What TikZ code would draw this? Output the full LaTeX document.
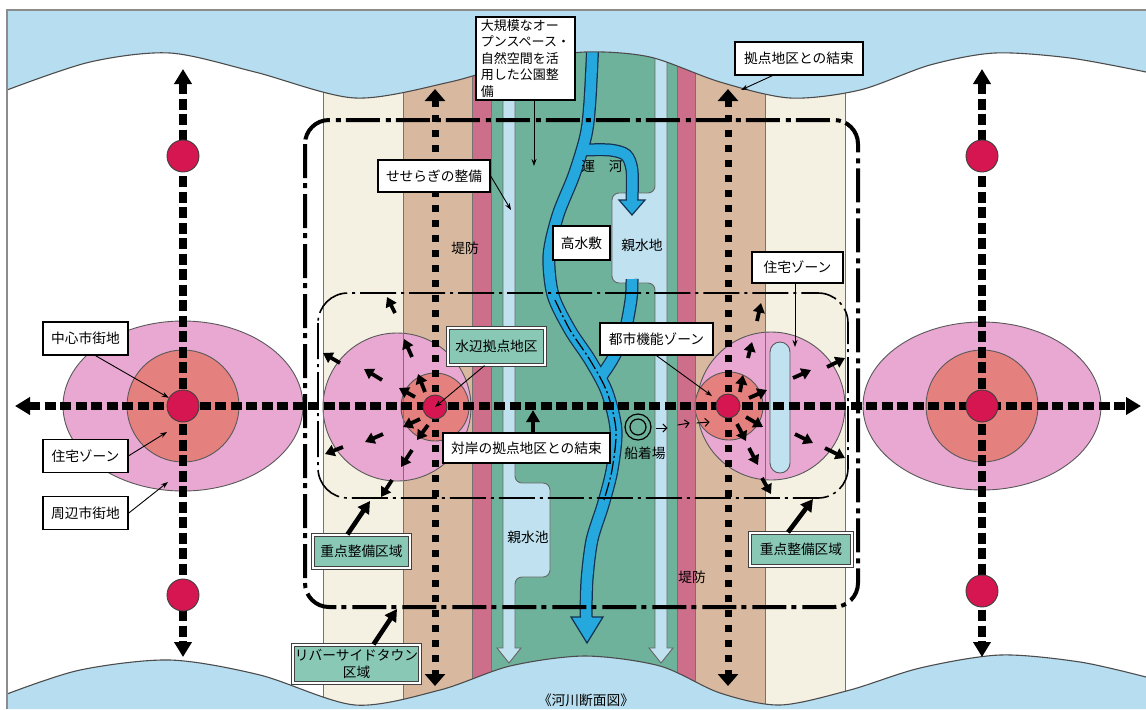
\documentclass[tikz,border=0pt]{standalone}
\usepackage{fontspec}
\setmainfont{Noto Sans CJK JP}
\usepackage{tikz}
\usetikzlibrary{arrows.meta,shapes,positioning,calc}
\definecolor{water}{RGB}{183,222,240}
\definecolor{cream}{RGB}{244,241,226}
\definecolor{bank}{RGB}{216,185,160}
\definecolor{dike}{RGB}{205,110,138}
\definecolor{park}{RGB}{111,178,155}
\definecolor{stream}{RGB}{192,226,240}
\definecolor{canal}{RGB}{36,168,222}
\definecolor{rim}{RGB}{20,50,80}
\definecolor{outer}{RGB}{232,168,210}
\definecolor{inner}{RGB}{228,128,126}
\definecolor{core}{RGB}{214,22,80}
\definecolor{tag}{RGB}{138,200,182}
\newlength{\pxu}
\setlength{\pxu}{0.2mm}

\begin{document}
\begin{tikzpicture}[x=0.2mm,y=-0.2mm,>=Stealth,
  box/.style={draw,fill=white,line width=1.3\pxu,inner sep=0pt,align=center,font=\fontsize{7.8}{9.4}\selectfont},
  tagbox/.style={box,fill=tag,draw=black!75,double,double distance=1.6\pxu},
  lbl/.style={inner sep=0pt,font=\fontsize{7.8}{9.4}\selectfont},
  dot/.style={circle,fill=core,draw=black!75,line width=0.9\pxu,inner sep=0pt,minimum size=24\pxu},
  seam/.style={draw=black!55,line width=0.9\pxu},
  ring/.style={draw=black!65,line width=0.9\pxu},
  lead/.style={line width=0.9\pxu,-{Stealth[length=1.4mm,width=1mm]}},
  flow/.style={line width=3.8\pxu,-{Triangle[length=1.9mm,width=2.3mm]}},
  push/.style={line width=4.6\pxu,-{Triangle[length=2.4mm,width=2.6mm]}},
  hop/.style={line width=1\pxu,-{Straight Barb[length=0.8mm,width=1.6mm]}},
  road/.style={line width=8\pxu,dash pattern=on 2.2mm off 0.9mm,{Triangle[length=3mm,width=3.4mm]}-{Triangle[length=3mm,width=3.4mm]}},
  link/.style={line width=7\pxu,dash pattern=on 1.4mm off 1.6mm,{Triangle[length=2.4mm,width=4mm]}-{Triangle[length=2.4mm,width=4mm]}},
  townzone/.style={line width=4\pxu,dash pattern=on 6.8mm off 1mm on 1mm off 1.2mm,rounded corners=24\pxu},
  corezone/.style={line width=1.6\pxu,dash pattern=on 7.2mm off 1mm on 0.6mm off 1mm,rounded corners=30\pxu},
  rimline/.style={draw=rim,line width=13\pxu},
  flowline/.style={draw=canal,line width=10.5\pxu}]
  \useasboundingbox (0,0) rectangle (1146,709);
  \fill[white] (0,0) rectangle (1146,709);
  \fill[cream] (323,10) rectangle (403,709);
  \fill[bank] (403,10) rectangle (472,709);
  \fill[dike] (472,10) rectangle (491,709);
  \fill[park] (491,10) rectangle (677,709);
  \fill[dike] (677,10) rectangle (695,709);
  \fill[bank] (695,10) rectangle (765,709);
  \fill[cream] (765,10) rectangle (845,709);
  \filldraw[fill=stream,draw=black!60,line width=0.9\pxu] (503,20) -- (503,648) -- (497,648) -- (509,663) -- (521,648) -- (515,648) [rounded corners=7\pxu] -- (515,577) -- (550,577) -- (550,483) -- (515,483) -- (515,470) [sharp corners] -- (515,20);
  \filldraw[fill=stream,draw=black!60,line width=0.9\pxu] (655,20) [rounded corners=7\pxu] -- (655,193) -- (612,193) -- (612,283) -- (655,283) -- (655,300) [sharp corners] -- (655,648) -- (649,648) -- (661,663) -- (673,648) -- (667,648) -- (667,20);
  \draw[rimline] plot[smooth] coordinates {(593,40) (590,100) (586,135) (574,175) (558,215) (549,255) (553,295) (570,330) (590,360) (607,392) (616,430) (612,470) (603,505) (592,540) (587,580) (586,618)};
  \draw[rimline] plot[smooth] coordinates {(584,150) (610,150) (626,155) (632,170) (632,201)};
  \draw[rimline] plot[smooth] coordinates {(632,279) (631,300) (624,335) (612,360) (600,378)};
  \draw[flowline] plot[smooth] coordinates {(593,40) (590,100) (586,135) (574,175) (558,215) (549,255) (553,295) (570,330) (590,360) (607,392) (616,430) (612,470) (603,505) (592,540) (587,580) (586,618)};
  \draw[flowline] plot[smooth] coordinates {(584,150) (610,150) (626,155) (632,170) (632,201)};
  \draw[flowline] plot[smooth] coordinates {(632,279) (631,300) (624,335) (612,360) (600,378)};
  \filldraw[fill=canal,draw=rim,line width=1.2\pxu] (581,617) -- (571,617) -- (587,643) -- (603,617) -- (592,617);
  \filldraw[fill=canal,draw=rim,line width=1.2\pxu] (627,200) -- (619,200) -- (632,215) -- (645,200) -- (637,200);
  \draw[line width=1.2\pxu,dash pattern=on 2.8mm off 0.6mm on 0.4mm off 0.6mm] plot[smooth] coordinates {(555,300) (570,330) (590,360) (607,392) (616,430) (612,470) (604,500)};
  \filldraw[fill=outer,ring] (183,406) ellipse [x radius=120,y radius=85];
  \filldraw[fill=inner,ring] (183,406) circle [radius=56];
  \filldraw[fill=outer,ring] (982,406) ellipse [x radius=119,y radius=84];
  \filldraw[fill=inner,ring] (982,406) circle [radius=56];
  \filldraw[fill=outer,ring] (397,407) circle [radius=74];
  \filldraw[fill=inner,ring] (435,407) circle [radius=34];
  \filldraw[fill=outer,ring] (771,406) circle [radius=74];
  \filldraw[fill=inner,ring] (729,406) circle [radius=34];
  \filldraw[fill=stream,ring,rounded corners=10\pxu] (770,342) rectangle (790,473);
  \draw[seam] (323,10) -- (323,709);
  \draw[seam] (403,10) -- (403,709);
  \draw[seam] (472,10) -- (472,709);
  \draw[seam] (491,10) -- (491,709);
  \draw[seam] (677,10) -- (677,709);
  \draw[seam] (695,10) -- (695,709);
  \draw[seam] (765,10) -- (765,709);
  \draw[seam] (845,10) -- (845,709);
  \fill[water] (7,10) -- plot[smooth] coordinates {(7,90) (90,62) (170,53) (255,72) (355,98) (450,82) (520,62) (585,52) (650,57) (720,82) (790,98) (860,90) (930,65) (995,53) (1070,58) (1146,72)} -- (1146,10) -- cycle;
  \fill[water] (7,709) -- plot[smooth] coordinates {(7,694) (80,670) (170,660) (260,675) (355,705) (440,690) (510,666) (585,656) (660,666) (720,693) (780,705) (850,690) (920,668) (1000,655) (1080,662) (1146,677)} -- (1146,709) -- cycle;
  \draw[black!70,line width=1.1\pxu] plot[smooth] coordinates {(7,90) (90,62) (170,53) (255,72) (355,98) (450,82) (520,62) (585,52) (650,57) (720,82) (790,98) (860,90) (930,65) (995,53) (1070,58) (1146,72)};
  \draw[black!70,line width=1.1\pxu] plot[smooth] coordinates {(7,694) (80,670) (170,660) (260,675) (355,705) (440,690) (510,666) (585,656) (660,666) (720,693) (780,705) (850,690) (920,668) (1000,655) (1080,662) (1146,677)};
  \draw[black!45,line width=1.2\pxu] (7,709) -- (7,10) -- (1146,10);
  \draw[corezone] (318,293) rectangle (848,498);
  \draw[townzone] (305,120) rectangle (858,607);
  \coordinate (wEnd) at (15,406);
  \coordinate (eEnd) at (1141,406);
  \coordinate (nwEnd) at (183,69);
  \coordinate (swEnd) at (183,657);
  \coordinate (neEnd) at (982,69);
  \coordinate (seEnd) at (982,657);
  \coordinate (nlEnd) at (435,89);
  \coordinate (slEnd) at (435,686);
  \coordinate (nrEnd) at (728,89);
  \coordinate (srEnd) at (728,686);
  \draw[road] (wEnd) -- (eEnd);
  \draw[road] (nwEnd) -- (swEnd);
  \draw[road] (neEnd) -- (seEnd);
  \draw[link] (nlEnd) -- (slEnd);
  \draw[link] (nrEnd) -- (srEnd);
  \node[dot,minimum size=32\pxu] (cityL) at (183,406) {};
  \node[dot,minimum size=32\pxu] (cityR) at (982,406) {};
  \node[dot,minimum size=32\pxu] (townNW) at (183,156) {};
  \node[dot,minimum size=32\pxu] (townSW) at (183,595) {};
  \node[dot,minimum size=32\pxu] (townNE) at (982,156) {};
  \node[dot,minimum size=32\pxu] (townSE) at (982,591) {};
  \node[dot] (hubL) at (435,407) {};
  \node[dot] (hubR) at (728,406) {};
  \draw[flow] (395,313) -- (387,297);
  \draw[flow] (412,357) -- (404,339);
  \draw[flow] (340,363) -- (323,353);
  \draw[flow] (382,380) -- (364,369);
  \draw[flow] (425,392) -- (418,374);
  \draw[flow] (415,397) -- (399,388);
  \draw[flow] (420,419) -- (403,427);
  \draw[flow] (428,425) -- (417,440);
  \draw[flow] (383,434) -- (365,442);
  \draw[flow] (412,450) -- (401,467);
  \draw[flow] (343,447) -- (325,454);
  \draw[flow] (392,480) -- (381,497);
  \draw[flow] (757,321) -- (761,303);
  \draw[flow] (748,358) -- (752,342);
  \draw[flow] (740,392) -- (743,375);
  \draw[flow] (749,398) -- (767,390);
  \draw[flow] (746,417) -- (763,427);
  \draw[flow] (737,424) -- (746,441);
  \draw[flow] (749,448) -- (758,465);
  \draw[flow] (762,478) -- (771,494);
  \draw[flow] (793,378) -- (811,370);
  \draw[flow] (795,434) -- (813,443);
  \draw[flow] (827,367) -- (845,358);
  \draw[flow] (825,448) -- (845,458);
  \node[draw,circle,line width=1.2\pxu,minimum size=26\pxu,inner sep=0pt] (pier) at (638,427) {};
  \draw[line width=1.2\pxu] (pier) circle [radius=8];
  \draw[hop] (pier.east) ++(4,1) -- ++(12,0);
  \draw[hop] (pier.east) ++(26,-2) -- ++(12,-2);
  \draw[hop] (pier.east) ++(45,-4) -- ++(13,-1);
  \node[lbl] (pierlbl) at (645,453) {船着場};
  \node[lbl] (dikeL) at (465,248) {堤防};
  \node[lbl] (dikeR) at (692,577) {堤防};
  \node[lbl] (canallbl) at (602,166) {運　河};
  \node[lbl] (pond) at (642,245) {親水地};
  \node[lbl] (pool) at (528,537) {親水池};
  \node[lbl] (caption) at (586,700) {《河川断面図》};
  \node[box,minimum width=99\pxu,minimum height=83\pxu,align=left,inner xsep=4\pxu,font=\fontsize{7.4}{9.4}\selectfont] (park) at (525.5,58.5) {大規模なオー\\プンスペース・\\自然空間を活\\用した公園整\\備};
  \node[box,minimum width=112\pxu,minimum height=32\pxu] (seseragi) at (434,176) {せせらぎの整備};
  \node[box,minimum width=128\pxu,minimum height=33\pxu] (kyoten) at (799,58.5) {拠点地区との結束};
  \node[box,minimum width=91\pxu,minimum height=31\pxu] (homeR) at (797.5,267.5) {住宅ゾーン};
  \node[box,minimum width=113\pxu,minimum height=32\pxu] (toshi) at (656.5,339) {都市機能ゾーン};
  \node[tagbox,minimum width=97\pxu,minimum height=37\pxu] (mizube) at (496.5,346.5) {水辺拠点地区};
  \node[box,minimum width=167\pxu,minimum height=30\pxu] (taigan) at (526.5,448) {対岸の拠点地区との結束};
  \node[box,minimum width=57\pxu,minimum height=34\pxu] (kosui) at (581.5,243) {高水敷};
  \node[box,minimum width=85\pxu,minimum height=33\pxu] (chushin) at (85.5,338.5) {中心市街地};
  \node[box,minimum width=85\pxu,minimum height=33\pxu,below=83\pxu of chushin] (homeL) {住宅ゾーン};
  \node[box,minimum width=85\pxu,minimum height=33\pxu,below=23\pxu of homeL] (shuhen) {周辺市街地};
  \node[tagbox,minimum width=97\pxu,minimum height=33\pxu] (jutenL) at (361.5,551.5) {重点整備区域};
  \node[tagbox,minimum width=102\pxu,minimum height=33\pxu] (jutenR) at (801,549.5) {重点整備区域};
  \node[tagbox,minimum width=127\pxu,minimum height=38\pxu] (riverside) at (356.5,664) {リバーサイドタウン\\区域};
  \coordinate (lawn) at (534,166);
  \coordinate (brook) at (511,210);
  \coordinate (crossN) at (741,90);
  \coordinate (flat) at (795,347);
  \coordinate (cbd) at (712,396);
  \coordinate (homeLpt) at (167,432);
  \coordinate (ringL) at (168,482);
  \coordinate (opp) at (533,410);
  \coordinate (jutenLpt) at (370,501);
  \coordinate (jutenRpt) at (813,499);
  \coordinate (townpt) at (397,609);
  \draw[lead] (park.south -| lawn) -- (lawn);
  \draw[lead] (seseragi.east) -- (brook);
  \draw[lead] ($(kyoten.south west)+(38,0)$) -- (crossN);
  \draw[lead] (homeR.south -| flat) -- (flat);
  \draw[lead] (toshi.south) -- (cbd);
  \draw[lead] ($(mizube.south)+(-12,0)$) -- (hubL.center);
  \draw[lead] ($(chushin.south)+(10,0)$) -- (cityL);
  \draw[lead] (homeL.east) -- (homeLpt);
  \draw[lead] (shuhen.east) -- (ringL);
  \draw[push] (taigan.north -| opp) -- (opp);
  \draw[push] ($(jutenL.north)+(-14,0)$) -- (jutenLpt);
  \draw[push] ($(jutenR.north)+(-13,0)$) -- (jutenRpt);
  \draw[push] ($(riverside.north)+(17,0)$) -- (townpt);
\end{tikzpicture}
\end{document}
